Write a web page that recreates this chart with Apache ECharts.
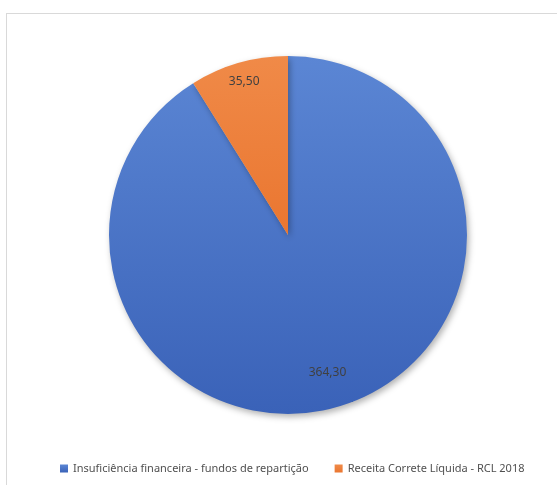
<!DOCTYPE html>
<html>
<head>
<meta charset="utf-8">
<script src="https://cdn.jsdelivr.net/npm/echarts@6/dist/echarts.min.js"></script>
<style>
html, body { margin: 0; padding: 0; background: #fff; }
#frame { position: absolute; left: 6px; top: 13px; width: 560px; height: 480px; border: 1px solid #d9d9d9; box-sizing: border-box; }
#container-pie { position: absolute; left: 0; top: 0; width: 557px; height: 485px; }
</style>
</head>
<body>
<div id="frame"></div>
<div id="container-pie"></div>
<script>
// dados do gráfico
var categorias = ['Insuficiência financeira - fundos de repartição', 'Receita Correte Líquida - RCL 2018'];
var valores = [364.30, 35.50];
var cores = [['#5b86d4', '#3a62b8'], ['#f08a48', '#ea7630']];

var dom = document.getElementById("container-pie");
var myChart = echarts.init(dom);
var option = null;

var dados = [];
for (var i = 0; i < categorias.length; i++) {
    dados.push({
        name: categorias[i],
        value: valores[i],
        itemStyle: {
            color: new echarts.graphic.LinearGradient(0, 0, 0, 1, [
                {offset: 0, color: cores[i][0]},
                {offset: 1, color: cores[i][1]}
            ])
        }
    });
}

option = {
    animation: false,
    legend: {
        bottom: 6,
        left: 55,
        itemWidth: 8,
        itemHeight: 8,
        itemGap: 26,
        icon: 'rect',
        textStyle: { fontFamily: 'Noto Sans', fontSize: 11, color: '#505050' },
        data: categorias
    },
    series: [
        {
            type: 'pie',
            center: [288, 235],
            radius: 179,
            startAngle: 90,
            data: dados,
            itemStyle: {
                shadowBlur: 6,
                shadowOffsetX: 2,
                shadowOffsetY: 3,
                shadowColor: 'rgba(0,0,0,0.3)'
            },
            label: {
                show: true,
                position: 'inside',
                fontFamily: 'Noto Sans',
                fontSize: 12,
                color: '#404040',
                formatter: function (p) {
                    return p.value.toFixed(2).replace('.', ',');
                }
            },
            labelLayout: function (p) {
                // afastar o rótulo do centro (como no Excel)
                var cx = 288, cy = 235;
                var lx = p.labelRect.x + p.labelRect.width / 2;
                var ly = p.labelRect.y + p.labelRect.height / 2;
                var k = p.dataIndex === 0 ? 1.55 : 1.72;
                return { x: cx + (lx - cx) * k, y: cy + (ly - cy) * k, align: 'center', verticalAlign: 'middle' };
            }
        }
    ]
};

if (option && typeof option === "object") {
    myChart.setOption(option, true);
}
</script>
</body>
</html>
